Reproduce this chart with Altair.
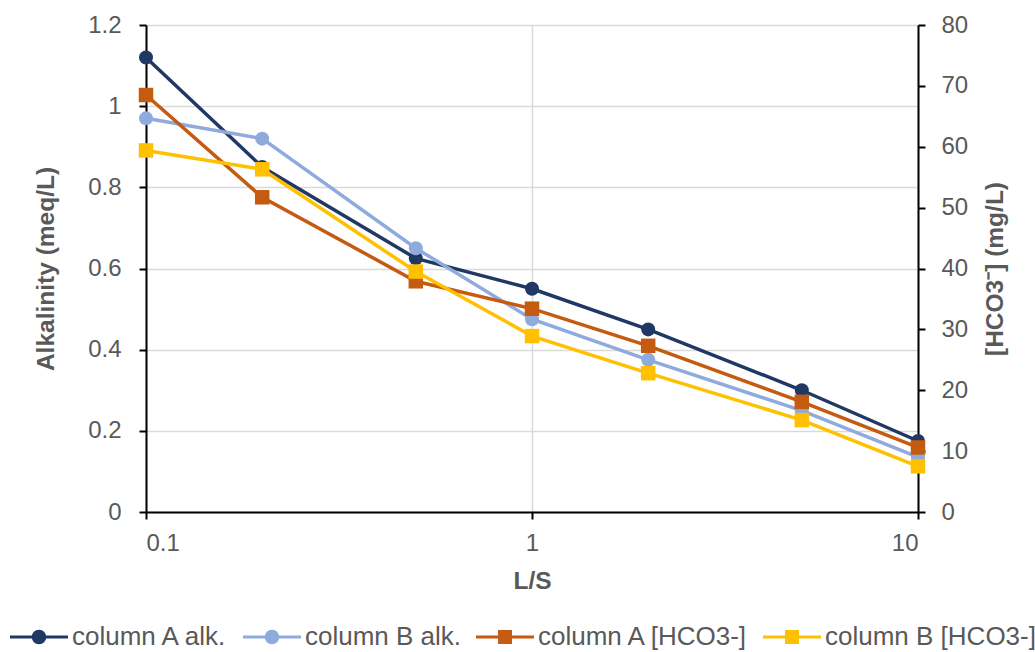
import altair as alt
import pandas as pd

# ---- data ----
LS = [0.1, 0.2, 0.5, 1, 2, 5, 10]
alk_A = [1.12, 0.85, 0.625, 0.55, 0.45, 0.30, 0.175]
alk_B = [0.97, 0.92, 0.65, 0.475, 0.375, 0.25, 0.135]
hco3_A = [68.5, 51.7, 37.9, 33.4, 27.3, 18.1, 10.6]
hco3_B = [59.4, 56.3, 39.5, 28.9, 22.8, 15.1, 7.5]

series_names = ["column A alk.", "column B alk.", "column A [HCO3-]", "column B [HCO3-]"]
colors = ["#1F3864", "#8FAADC", "#C55A11", "#FFC000"]
x_ticks = [0.1, 1, 10]
left_ticks = [0, 0.2, 0.4, 0.6, 0.8, 1.0, 1.2]
right_ticks = [0, 10, 20, 30, 40, 50, 60, 70, 80]

rows = []
for name, vals in zip(series_names, [alk_A, alk_B, hco3_A, hco3_B]):
    for x, v in zip(LS, vals):
        rows.append({"LS": x, "value": v, "series": name})
df = pd.DataFrame(rows)

FONT = "Liberation Sans, Arial, sans-serif"
GRAY = "#595959"

# legend symbols: line with a marker (unit-box SVG paths)
circle_path = ("M-1,-0.055H1V0.055H-1Z "
               "M0.25,0A0.25,0.25,0,1,1,-0.25,0A0.25,0.25,0,1,1,0.25,0Z")
square_path = ("M-1,-0.055H1V0.055H-1Z "
               "M-0.24,-0.24H0.24V0.24H-0.24Z")
legend_paths = [circle_path, circle_path, square_path, square_path]

x_enc = alt.X(
    "LS:Q",
    scale=alt.Scale(type="log", domain=[0.1, 10]),
    axis=alt.Axis(
        values=x_ticks, format="~g", title="L/S",
        labelFont=FONT, labelFontSize=24, labelColor=GRAY, labelPadding=12,
        titleFont=FONT, titleFontSize=24.5, titleFontWeight="bold", titleColor=GRAY,
        titlePadding=14,
        tickSize=7, tickColor="black", tickWidth=2,
        domainColor="black", domainWidth=2,
        grid=True, gridColor="#D9D9D9", gridWidth=1.5,
    ),
)

left_y = alt.Y(
    "value:Q",
    scale=alt.Scale(domain=[0, 1.2], nice=False, zero=True),
    axis=alt.Axis(
        values=left_ticks, format="~g", title="Alkalinity (meq/L)",
        labelFont=FONT, labelFontSize=24, labelColor=GRAY, labelPadding=18,
        titleFont=FONT, titleFontSize=24.5, titleFontWeight="bold", titleColor=GRAY,
        titlePadding=29,
        tickSize=7, tickColor="black", tickWidth=2,
        domainColor="black", domainWidth=2,
        grid=True, gridColor="#D9D9D9", gridWidth=1.5,
    ),
)

right_y = alt.Y(
    "value:Q",
    scale=alt.Scale(domain=[0, 80], nice=False, zero=True),
    axis=alt.Axis(
        orient="right", values=right_ticks, format="d", title="[HCO3⁻] (mg/L)",
        labelFont=FONT, labelFontSize=24, labelColor=GRAY, labelPadding=16,
        titleFont=FONT, titleFontSize=24.5, titleFontWeight="bold", titleColor=GRAY,
        titleAngle=270, titleBaseline="top", titlePadding=16,
        tickSize=7, tickColor="black", tickWidth=2,
        domainColor="black", domainWidth=2,
        grid=False,
    ),
)


def series_layers(name, color, shape, size, y_enc):
    base = alt.Chart(df).transform_filter(alt.datum.series == name)
    line = base.mark_line(color=color, strokeWidth=3.5).encode(x=x_enc, y=y_enc)
    pts = base.mark_point(color=color, filled=True, opacity=1, shape=shape,
                          size=size).encode(x=x_enc, y=y_enc)
    return [line, pts]


legend_def = alt.Legend(
    orient="none", legendX=-136, legendY=583, direction="horizontal", columns=4,
    title=None, labelFont=FONT, labelFontSize=26, labelColor=GRAY,
    symbolSize=3364, symbolStrokeWidth=0, symbolOpacity=1,
    labelOffset=4, columnPadding=14, labelLimit=400,
)

legend_layer = alt.Chart(df).mark_point(filled=True, opacity=0).encode(
    x=x_enc,
    y=left_y,
    color=alt.Color("series:N", scale=alt.Scale(domain=series_names, range=colors),
                    legend=legend_def, sort=series_names),
    shape=alt.Shape("series:N", scale=alt.Scale(domain=series_names, range=legend_paths),
                    legend=legend_def, sort=series_names),
)

left = alt.layer(
    *series_layers(series_names[0], colors[0], "circle", 196, left_y),
    *series_layers(series_names[1], colors[1], "circle", 196, left_y),
    legend_layer,
)
right = alt.layer(
    *series_layers(series_names[2], colors[2], "square", 210, right_y),
    *series_layers(series_names[3], colors[3], "square", 210, right_y),
)

chart = (
    alt.layer(left, right)
    .resolve_scale(y="independent")
    .properties(
        width=772, height=487,
        autosize=alt.AutoSizeParams(type="none"),
        padding={"left": 146, "top": 25, "right": 117, "bottom": 140},
        background="white",
    )
    .configure_view(stroke=None)
)

chart.save("out.html", embed_options={"renderer": "svg", "actions": False})
